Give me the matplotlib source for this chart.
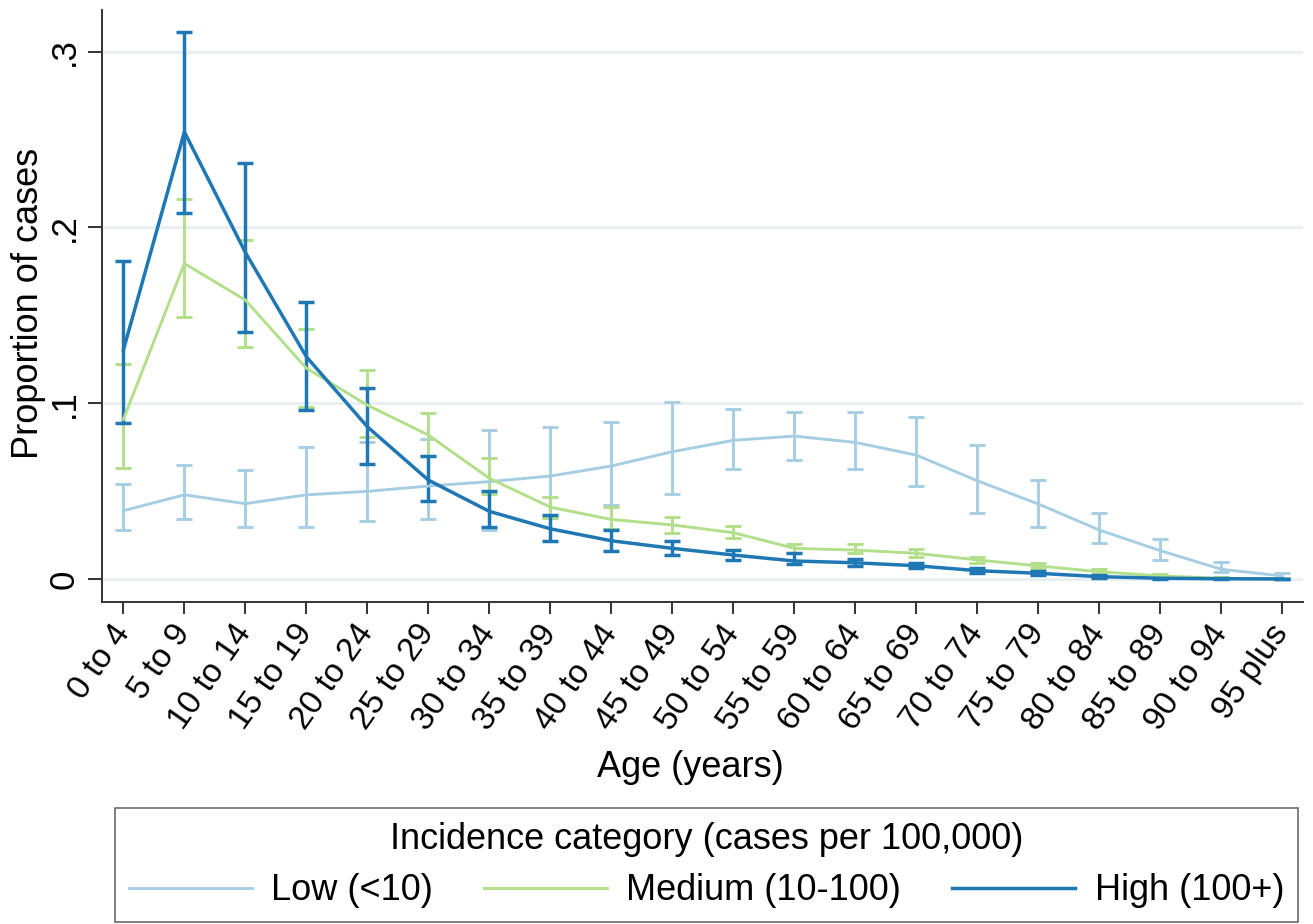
import numpy as np
import matplotlib
matplotlib.use('Agg')
import matplotlib.pyplot as plt
from matplotlib.lines import Line2D

plt.rcParams['font.family'] = ['Liberation Sans', 'DejaVu Sans']

# age groups on the x axis
age_groups = ['0 to 4', '5 to 9', '10 to 14', '15 to 19', '20 to 24',
              '25 to 29', '30 to 34', '35 to 39', '40 to 44', '45 to 49',
              '50 to 54', '55 to 59', '60 to 64', '65 to 69', '70 to 74',
              '75 to 79', '80 to 84', '85 to 89', '90 to 94', '95 plus']

# low incidence (<10)
low_mean = [0.039, 0.048, 0.043, 0.048, 0.050, 0.053, 0.0555, 0.0587,
            0.0644, 0.0725, 0.079, 0.0814, 0.0778, 0.0706, 0.056, 0.0428,
            0.028, 0.0163, 0.0057, 0.0019]
low_upper = [0.054, 0.065, 0.062, 0.075, 0.078, 0.080, 0.0848, 0.0867,
             0.0896, 0.1006, 0.0966, 0.0952, 0.0952, 0.092, 0.0765, 0.0564,
             0.0375, 0.0227, 0.010, 0.0034]
low_lower = [0.028, 0.034, 0.030, 0.030, 0.033, 0.034, 0.028, 0.0347,
             0.042, 0.0483, 0.0625, 0.0678, 0.0625, 0.053, 0.0375, 0.0299,
             0.0205, 0.011, 0.0043, 0.001]

# medium incidence (10-100)
med_mean = [0.0909, 0.1795, 0.1587, 0.120, 0.099, 0.082, 0.0574, 0.041,
            0.034, 0.0309, 0.0265, 0.0176, 0.0166, 0.0148, 0.011, 0.0076,
            0.0043, 0.0019, 0.0006, 0.0003]
med_upper = [0.1223, 0.216, 0.1928, 0.142, 0.119, 0.0943, 0.0688, 0.0466,
             0.041, 0.0352, 0.0303, 0.020, 0.020, 0.017, 0.0128, 0.0092,
             0.0056, 0.0028, 0.0011, 0.0006]
med_lower = [0.063, 0.149, 0.1318, 0.098, 0.081, 0.070, 0.0485, 0.0347,
             0.0286, 0.0265, 0.0233, 0.0151, 0.015, 0.0125, 0.0094, 0.0062,
             0.0032, 0.0012, 0.0002, 0.0]

# high incidence (100+)
high_mean = [0.1303, 0.2543, 0.1858, 0.1265, 0.0867, 0.0564, 0.0386,
             0.0287, 0.0219, 0.0176, 0.0138, 0.0104, 0.0094, 0.0077,
             0.0049, 0.0034, 0.0015, 0.0006, 0.0003, 0.0002]
high_upper = [0.1809, 0.311, 0.2369, 0.1576, 0.109, 0.0702, 0.050, 0.0365,
              0.0282, 0.0218, 0.0166, 0.0148, 0.0115, 0.0094, 0.0062,
              0.0045, 0.0022, 0.0010, 0.0006, 0.0004]
high_lower = [0.089, 0.2083, 0.1403, 0.0962, 0.0655, 0.0447, 0.030, 0.022,
              0.0163, 0.0138, 0.011, 0.0087, 0.0076, 0.0066, 0.0038, 0.0024,
              0.0009, 0.0002, 0.0, 0.0]

y_ticks = [0, 0.1, 0.2, 0.3]
y_tick_labels = ['0', '.1', '.2', '.3']

series = [
    ('Low (<10)', low_mean, low_lower, low_upper, '#a6cee3', 2.1),
    ('Medium (10-100)', med_mean, med_lower, med_upper, '#b2df8a', 2.1),
    ('High (100+)', high_mean, high_lower, high_upper, '#1f78b4', 2.5),
]

fig = plt.figure(figsize=(13.13, 9.24), dpi=100)
ax = fig.add_axes([0.0777, 0.3485, 0.9147, 0.6405])

x = np.arange(len(age_groups))

for yt in y_ticks:
    ax.axhline(yt, color='#e6eff1', lw=2, zorder=0)

handles = []
for label, mean, lo, hi, col, lw in series:
    mean = np.array(mean)
    yerr = [mean - np.array(lo), np.array(hi) - mean]
    ax.errorbar(x, mean, yerr=yerr, fmt='none', ecolor=col,
                elinewidth=lw, capsize=6, capthick=lw, zorder=2)
    ax.plot(x, mean, color=col, lw=lw, zorder=3)
    handles.append(Line2D([0], [0], color=col, lw=lw))

ax.set_xlim(-0.35, 19.34)
ax.set_ylim(-0.0129, 0.3235)

ax.set_yticks(y_ticks)
ax.set_yticklabels(y_tick_labels, rotation=90, va='center', fontsize=25)
ax.set_xticks(x)
ax.set_xticklabels(age_groups, rotation=55, ha='right', va='center',
                   rotation_mode='anchor', fontsize=24)

ax.tick_params(axis='both', direction='out', width=1.4, color='#333333')
ax.tick_params(axis='x', length=8.6, pad=10)
ax.tick_params(axis='y', length=10, pad=5.5)

for side in ['top', 'right']:
    ax.spines[side].set_visible(False)
for side in ['left', 'bottom']:
    ax.spines[side].set_color('#333333')
    ax.spines[side].set_linewidth(1.4)

ax.set_ylabel('Proportion of cases', fontsize=26)
ax.yaxis.set_label_coords(-0.047, 0.505)
ax.set_xlabel('Age (years)', fontsize=26)
ax.xaxis.set_label_coords(0.49, -0.25)

leg = fig.legend(handles, [s[0] for s in series], ncol=3,
                 loc='lower center', bbox_to_anchor=(0.538, 0.002),
                 fontsize=26, title='Incidence category (cases per 100,000)',
                 title_fontsize=26, frameon=True, fancybox=False,
                 edgecolor='#444444', handlelength=3.4, handletextpad=0.55,
                 columnspacing=1.4, borderpad=0.38, borderaxespad=0,
                 labelspacing=0.45)
leg.get_frame().set_linewidth(1.2)

fig.savefig('out.png', dpi=100, facecolor='white')
